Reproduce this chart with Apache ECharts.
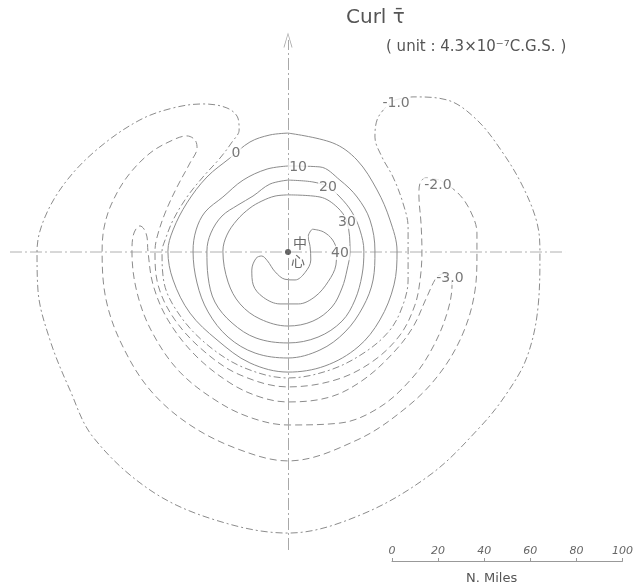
<!DOCTYPE html>
<html>
<head>
<meta charset="utf-8">
<script src="https://cdn.jsdelivr.net/npm/echarts@6/dist/echarts.min.js"></script>
<style>
  html, body { margin: 0; padding: 0; background: #fff; }
  #chart { width: 636px; height: 584px; }
</style>
</head>
<body>
<div id="chart"></div>
<script>
// curl of wind stress around the typhoon centre, coordinates in nautical miles from the centre
const ring0 = [[0,50.6],[19.1,46.4],[29.4,39.1],[37.9,26.4],[43.4,13.6],[46.4,0.4],[45.1,-14.0],[39.1,-28.9],[29.8,-40.4],[15.7,-48.5],[0,-51.1],[-16.2,-47.2],[-30.2,-37.4],[-41.7,-26.0],[-48.9,-11.9],[-51.1,0.4],[-48.9,9.4],[-43.0,20.9],[-34.5,31.9],[-24.7,40.0],[-16.2,46.8],[-7.7,49.8],[0,50.6]];
const ring10 = [[0,36.6],[13.6,36.2],[22.1,30.6],[29.4,23.4],[34.9,13.6],[37.0,0.4],[36.2,-11.9],[31.9,-23.4],[24.3,-34.0],[13.6,-41.7],[0,-45.1],[-14.0,-43.0],[-25.5,-36.2],[-34.0,-25.5],[-38.7,-13.2],[-40.4,0.4],[-39.1,9.4],[-35.3,17.0],[-27.7,23.4],[-19.1,30.6],[-8.9,35.3],[0,36.6]];
const ring20 = [[0,30.6],[10.6,29.8],[17.0,27.7],[22.1,23.4],[27.2,17.0],[30.6,9.4],[32.3,0.4],[31.5,-9.8],[28.5,-20.4],[23.0,-29.4],[12.8,-36.2],[0,-38.7],[-13.6,-36.6],[-23.8,-30.2],[-31.1,-21.3],[-34.0,-10.6],[-34.5,0.4],[-32.8,8.1],[-28.1,15.3],[-21.3,20.0],[-14.9,23.8],[-7.7,28.9],[0,30.6]];
const ring30 = [[0,24.3],[13.6,23.4],[20.9,19.1],[25.1,12.8],[26.4,0.4],[25.1,-7.7],[23.0,-15.3],[18.7,-23.4],[10.6,-29.4],[0,-31.5],[-11.9,-28.5],[-20.4,-22.1],[-25.5,-12.8],[-27.7,0.4],[-26.0,7.2],[-21.7,13.6],[-16.2,18.7],[-11.1,21.7],[-5.5,23.8],[0,24.3]];
const ring40 = [[10.5,9.7],[15.0,8.6],[19.0,5.1],[20.7,0.1],[20.4,-5.5],[17.1,-12.6],[11.5,-19.0],[4.4,-22.1],[-3.4,-22.1],[-10.5,-19.3],[-14.8,-14.0],[-15.4,-7.7],[-13.6,-2.7],[-11.2,-1.7],[-8.8,-3.7],[-5.5,-8.4],[-1.3,-11.6],[3.0,-11.9],[7.2,-8.8],[9.7,-3.4],[9.4,2.3],[8.6,6.5],[9.7,9.1],[10.5,9.7]];
const neg1 = [[45.5,64.7],[53.2,66.0],[67.7,64.7],[80.4,56.2],[91.5,42.1],[100.0,27.7],[106.0,12.3],[107.2,-0.4],[106.4,-23.4],[101.7,-44.7],[93.2,-60.0],[81.7,-74.5],[60.4,-94.9],[30.6,-112.0],[0,-119.6],[-31.1,-114.0],[-58.7,-101.3],[-83.0,-78.7],[-92.8,-58.7],[-101.3,-37.4],[-106.4,-16.2],[-106.8,0.4],[-103.4,14.9],[-94.0,30.6],[-80.0,44.7],[-63.0,56.2],[-48.9,61.3],[-36.2,63.0],[-26.0,61.3],[-21.3,57.0],[-20.8,51.9],[-23.8,46.8],[-28.9,40.0],[-36.2,31.9],[-43.0,23.4],[-48.9,13.6],[-52.3,5.1],[-53.6,0.4],[-52.8,-12.8],[-45.5,-27.7],[-33.2,-40.4],[-18.3,-49.4],[0,-53.6],[17.9,-50.2],[32.8,-42.6],[43.4,-33.2],[48.9,-22.6],[51.1,-11.9],[51.1,0.4],[51.1,10.6],[48.9,20.9],[44.7,31.9],[40.0,40.4],[37.0,48.9],[37.9,56.2],[41.3,61.3],[45.5,64.7]];
const neg2 = [[64.7,30.6],[72.3,25.1],[77.4,17.9],[80.4,8.1],[80.4,-0.4],[79.6,-16.2],[74.5,-34.5],[64.7,-51.5],[50.6,-66.0],[29.4,-80.0],[0,-88.9],[-20.4,-84.2],[-41.7,-73.6],[-58.7,-58.7],[-70.6,-39.6],[-77.4,-20.4],[-79.1,0.4],[-78.3,10.2],[-75.3,20.0],[-68.5,31.9],[-58.7,42.1],[-48.9,47.7],[-43.0,49.4],[-39.6,47.7],[-38.7,44.3],[-41.7,37.9],[-47.2,27.7],[-52.3,16.6],[-55.7,6.4],[-56.6,0.4],[-55.3,-14.0],[-48.1,-28.9],[-35.3,-42.6],[-20.4,-52.3],[0,-57.4],[20.0,-54.5],[35.7,-46.8],[47.7,-35.3],[54.0,-22.6],[56.2,-11.9],[57.0,0.4],[56.6,12.3],[55.7,24.3],[56.2,29.4],[58.7,31.5],[64.7,30.6]];
const neg3 = [[66.8,-8.9],[69.8,-14.0],[67.7,-26.0],[61.7,-40.4],[53.2,-53.2],[39.1,-66.0],[22.1,-72.8],[0,-73.6],[-14.0,-71.1],[-28.9,-64.3],[-46.0,-51.1],[-57.9,-34.0],[-64.3,-17.0],[-66.4,0.4],[-66.0,6.4],[-64.7,9.8],[-63.0,11.1],[-61.3,9.8],[-60.0,6.4],[-59.6,0.4],[-57.4,-14.0],[-51.1,-28.9],[-39.6,-43.8],[-24.7,-55.7],[-11.9,-61.7],[0,-63.8],[17.9,-61.7],[31.9,-54.5],[44.7,-43.0],[53.2,-31.9],[59.1,-19.1],[63.4,-10.6],[66.8,-8.9]];

// contour value labels: [x, y, text]
const contourLabels = [[-22.1,42.1,'0'],[4.3,36.2,'10'],[17.0,27.7,'20'],[25.1,12.8,'30'],[22.1,-0.4,'40'],[46.0,63.4,'-1.0'],[63.8,28.5,'-2.0'],[68.9,-11.1,'-3.0']];
const centerText = [[5.1,3.8,'中'],[4.3,-3.8,'心']];

// axes through the centre (miles)
const hAxisEnds = [[-118.3,0],[117.9,0]];
const vAxisEnds = [[0,-126.8],[0,90.2]];

// distance scale
const scaleTicks = [0, 20, 40, 60, 80, 100];

const PX = 2.35;          // pixels per nautical mile
const CX = 288, CY = 252; // centre in pixels
const W = 636, H = 584;

const lineColor = '#8c8c8c';
const textColor = '#555';

function contour(data, dash) {
  return {
    type: 'line',
    data: data,
    smooth: 0.35,
    showSymbol: false,
    silent: true,
    lineStyle: { color: lineColor, width: 1, type: dash || 'solid' },
    z: 2
  };
}

function textLayer(data, color, font) {
  return {
    type: 'scatter',
    data: data,
    symbolSize: 1,
    itemStyle: { color: 'rgba(0,0,0,0)' },
    silent: true,
    z: 5,
    label: {
      show: true,
      position: 'inside',
      formatter: p => p.data[2],
      color: color,
      fontSize: 14,
      fontFamily: font,
      backgroundColor: '#fff',
      padding: [0, 1]
    }
  };
}

const chart = echarts.init(document.getElementById('chart'), null, { renderer: 'canvas' });

chart.setOption({
  animation: false,
  backgroundColor: '#fff',
  grid: [
    { left: 0, right: 0, top: 0, bottom: 0 },
    { left: 392, width: 235, top: 551, height: 10 }
  ],
  xAxis: [
    { type: 'value', gridIndex: 0, min: -CX / PX, max: (W - CX) / PX, show: false },
    {
      type: 'value', gridIndex: 1, position: 'bottom',
      min: scaleTicks[0], max: scaleTicks[scaleTicks.length - 1], interval: 20,
      axisLine: { lineStyle: { color: '#999', width: 1 } },
      axisTick: { inside: true, length: 3, lineStyle: { color: '#999' } },
      splitLine: { show: false },
      axisLabel: { inside: true, color: '#666', fontSize: 11, fontStyle: 'italic', margin: 4, fontFamily: 'DejaVu Sans' }
    }
  ],
  yAxis: [
    { type: 'value', gridIndex: 0, min: -(H - CY) / PX, max: CY / PX, show: false },
    { type: 'value', gridIndex: 1, show: false }
  ],
  series: [
    {
      type: 'line',
      data: hAxisEnds,
      showSymbol: false,
      silent: true,
      lineStyle: { color: '#b0b0b0', width: 1, type: [12, 3, 2, 3] },
      markLine: {
        silent: true,
        symbol: ['none', 'path://M5,0 L10,14 L9,14 L5,2 L1,14 L0,14 Z'],
        symbolSize: [9, 15],
        label: { show: false },
        lineStyle: { color: '#a8a8a8', width: 1, type: [12, 3, 2, 3] },
        data: [[{ coord: vAxisEnds[0] }, { coord: vAxisEnds[1] }]]
      },
      z: 1
    },
    contour(ring0),
    contour(ring10),
    contour(ring20),
    contour(ring30),
    contour(ring40),
    contour(neg1, [7, 3, 2, 3]),
    contour(neg2, [7, 4]),
    contour(neg3, [7, 4]),
    textLayer(contourLabels, textColor, 'DejaVu Sans'),
    textLayer(centerText, '#444', 'Noto Sans CJK SC'),
    {
      type: 'scatter',
      data: [[0, 0]],
      symbolSize: 6,
      itemStyle: { color: '#444' },
      silent: true,
      z: 6
    }
  ],
  graphic: [
    {
      type: 'text', left: 346, top: 8,
      style: { text: 'Curl τ̄', fill: textColor, font: '20px "DejaVu Sans"' }
    },
    {
      type: 'text', left: 386, top: 40,
      style: { text: '( unit : 4.3×10⁻⁷C.G.S. )', fill: textColor, font: '15px "DejaVu Sans"' }
    },
    {
      type: 'text', left: 466, top: 572,
      style: { text: 'N. Miles', fill: textColor, font: '13px "DejaVu Sans"' }
    }
  ]
});
</script>
</body>
</html>
